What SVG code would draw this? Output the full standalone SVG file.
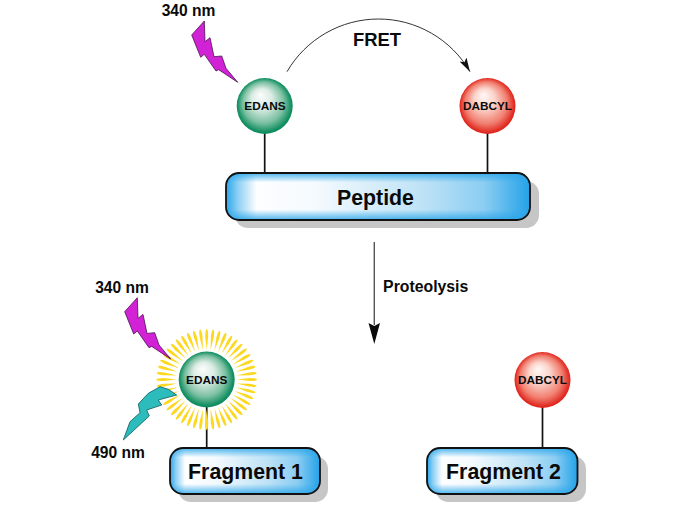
<svg xmlns="http://www.w3.org/2000/svg" width="680" height="509" viewBox="0 0 680 509">
  <style>
    text { font-family: "Liberation Sans", Arial, sans-serif; font-weight: bold; fill: #0a0a0a; text-anchor: middle; }
    .wave { font-size: 15.6px; }
    .ball { font-size: 11.8px; }
    .box { font-size: 21.3px; }
    .shadow { fill: #c6c6c6; }
    .outline { fill: none; stroke: #111; stroke-width: 1.8; }
    .stem { stroke: #111; stroke-width: 1.7; fill: none; }
    .uv { fill: #d222d6; stroke: #4a1050; stroke-width: 0.8; stroke-linejoin: round; }
    .em { fill: #2cbcbc; stroke: #0e5a60; stroke-width: 0.8; stroke-linejoin: round; }
  </style>
  <defs>
    <radialGradient id="greenBall" cx="0.5" cy="0.5" r="0.52" fx="0.42" fy="0.3">
      <stop offset="0" stop-color="#fbfdfc"/>
      <stop offset="0.35" stop-color="#dcece5"/>
      <stop offset="0.7" stop-color="#7cc0a2"/>
      <stop offset="0.92" stop-color="#149063"/>
      <stop offset="1" stop-color="#0a8556"/>
    </radialGradient>
    <radialGradient id="redBall" cx="0.5" cy="0.5" r="0.52" fx="0.42" fy="0.3">
      <stop offset="0" stop-color="#fff8f6"/>
      <stop offset="0.35" stop-color="#fbd5cc"/>
      <stop offset="0.72" stop-color="#f17f70"/>
      <stop offset="0.94" stop-color="#e0281f"/>
      <stop offset="1" stop-color="#dd1c14"/>
    </radialGradient>
    <linearGradient id="boxH" x1="0" y1="0" x2="1" y2="0">
      <stop offset="0" stop-color="#2ba6ea"/>
      <stop offset="0.04" stop-color="#8fd0f4"/>
      <stop offset="0.1" stop-color="#fdfeff"/>
      <stop offset="0.3" stop-color="#f4fafe"/>
      <stop offset="0.65" stop-color="#bde2f6"/>
      <stop offset="0.85" stop-color="#8bcdf2"/>
      <stop offset="1" stop-color="#23a2e8"/>
    </linearGradient>
    <linearGradient id="boxV" x1="0" y1="0" x2="0" y2="1">
      <stop offset="0" stop-color="#2ba6ea" stop-opacity="0.85"/>
      <stop offset="0.2" stop-color="#2ba6ea" stop-opacity="0"/>
      <stop offset="0.78" stop-color="#2ba6ea" stop-opacity="0"/>
      <stop offset="1" stop-color="#2ba6ea" stop-opacity="0.85"/>
    </linearGradient>
    <path id="boltUv" class="uv" d="M204.3,21 L205,41.7 L210,37.700 L214,56.700 L221.700,56 L226,68.300 L237.700,82.300 L218.700,69.700 L216,71 L204.300,54.300 L200.700,57.300 L191.700,35 Z"/>
    <!-- one spindle of the glow; the quarter below is repeated round the ball -->
    <path id="ray" fill="#fcd820" d="M0,-30 L1.500,-43 Q1.500,-50 0,-50.500 Q-1.500,-50 -1.500,-43 Z"/>
    <g id="rayQuarter">
      <use href="#ray"/>
      <use href="#ray" transform="rotate(7.5)"/>
      <use href="#ray" transform="rotate(15)"/>
      <use href="#ray" transform="rotate(22.5)"/>
      <use href="#ray" transform="rotate(30)"/>
      <use href="#ray" transform="rotate(37.5)"/>
      <use href="#ray" transform="rotate(45)"/>
      <use href="#ray" transform="rotate(52.5)"/>
      <use href="#ray" transform="rotate(60)"/>
      <use href="#ray" transform="rotate(67.5)"/>
      <use href="#ray" transform="rotate(75)"/>
      <use href="#ray" transform="rotate(82.5)"/>
    </g>
    <marker id="arcHead" markerUnits="userSpaceOnUse" markerWidth="16" markerHeight="12" refX="14" refY="4.500" orient="auto">
      <path d="M0,0.500 L14,4.500 L0,8.500 L3,4.500 Z" fill="#111"/>
    </marker>
  </defs>

  <g id="connectors">
    <line class="stem" x1="264.700" y1="133" x2="264.700" y2="173"/>
    <line class="stem" x1="487.500" y1="133" x2="487.500" y2="173"/>
    <line class="stem" x1="206.700" y1="407" x2="206.700" y2="448"/>
    <line class="stem" x1="542.500" y1="407" x2="542.500" y2="448"/>
    <path d="M287,71.700 A105.800,105.800 0 0 1 470,71.700" fill="none" stroke="#333" stroke-width="1" marker-end="url(#arcHead)"/>
    <line x1="374.300" y1="242" x2="374.300" y2="325" stroke="#555" stroke-width="1.400"/>
    <path d="M368.500,323 L374.300,326 L380,323 L374.300,344 Z" fill="#0a0a0a"/>
    <text x="425.700" y="292.300" font-size="15.800">Proteolysis</text>
    <text x="377" y="46" font-size="18.400">FRET</text>
  </g>

  <g id="peptide">
    <rect class="shadow" x="235" y="181" width="304" height="47" rx="13"/>
    <rect x="226" y="173" width="304" height="47" rx="13" fill="url(#boxH)"/>
    <rect x="226" y="173" width="304" height="47" rx="13" fill="url(#boxV)"/>
    <rect class="outline" x="226" y="173" width="304" height="47" rx="13"/>
    <text class="box" x="375.500" y="205">Peptide</text>
  </g>

  <g id="fragment-1">
    <rect class="shadow" x="178" y="456" width="150" height="46" rx="13"/>
    <rect x="170" y="448" width="150" height="46" rx="13" fill="url(#boxH)"/>
    <rect x="170" y="448" width="150" height="46" rx="13" fill="url(#boxV)"/>
    <rect class="outline" x="170" y="448" width="150" height="46" rx="13"/>
    <text class="box" x="245.500" y="478.500">Fragment 1</text>
  </g>

  <g id="fragment-2">
    <rect class="shadow" x="435.500" y="456" width="150.500" height="46" rx="13"/>
    <rect x="427" y="448" width="150.500" height="46" rx="13" fill="url(#boxH)"/>
    <rect x="427" y="448" width="150.500" height="46" rx="13" fill="url(#boxV)"/>
    <rect class="outline" x="427" y="448" width="150.500" height="46" rx="13"/>
    <text class="box" x="503.500" y="478.500">Fragment 2</text>
  </g>

  <g id="edans-intact">
    <circle cx="264.700" cy="106" r="28" fill="url(#greenBall)"/>
    <text class="ball" x="265" y="110">EDANS</text>
  </g>

  <g id="dabcyl-intact">
    <circle cx="487.500" cy="106" r="28" fill="url(#redBall)"/>
    <text class="ball" x="487.500" y="110">DABCYL</text>
  </g>

  <g id="excitation-intact">
    <use href="#boltUv"/>
    <text class="wave" x="188.500" y="16">340 nm</text>
  </g>

  <g id="edans-free">
    <g transform="translate(206.700,379.500)">
      <use href="#rayQuarter"/>
      <use href="#rayQuarter" transform="rotate(90)"/>
      <use href="#rayQuarter" transform="rotate(180)"/>
      <use href="#rayQuarter" transform="rotate(270)"/>
    </g>
    <circle cx="206.700" cy="379.500" r="28" fill="url(#greenBall)"/>
    <text class="ball" x="206.700" y="383.500">EDANS</text>
  </g>

  <g id="dabcyl-free">
    <circle cx="542.500" cy="380" r="28" fill="url(#redBall)"/>
    <text class="ball" x="542.500" y="383.500">DABCYL</text>
  </g>

  <g id="excitation-free">
    <use href="#boltUv" transform="translate(-67,276.700)"/>
    <text class="wave" x="122" y="293">340 nm</text>
  </g>

  <g id="emission-free">
    <path class="em" d="M123.300,440 L130,421.700 L140,412.700 L138.300,404 L148.300,393.300 L160,386.700 L168.300,389.300 L176.700,395 L158.300,400 L161.700,405 L146.700,410 L149.300,416 Z"/>
    <text class="wave" x="118" y="458">490 nm</text>
  </g>
</svg>
